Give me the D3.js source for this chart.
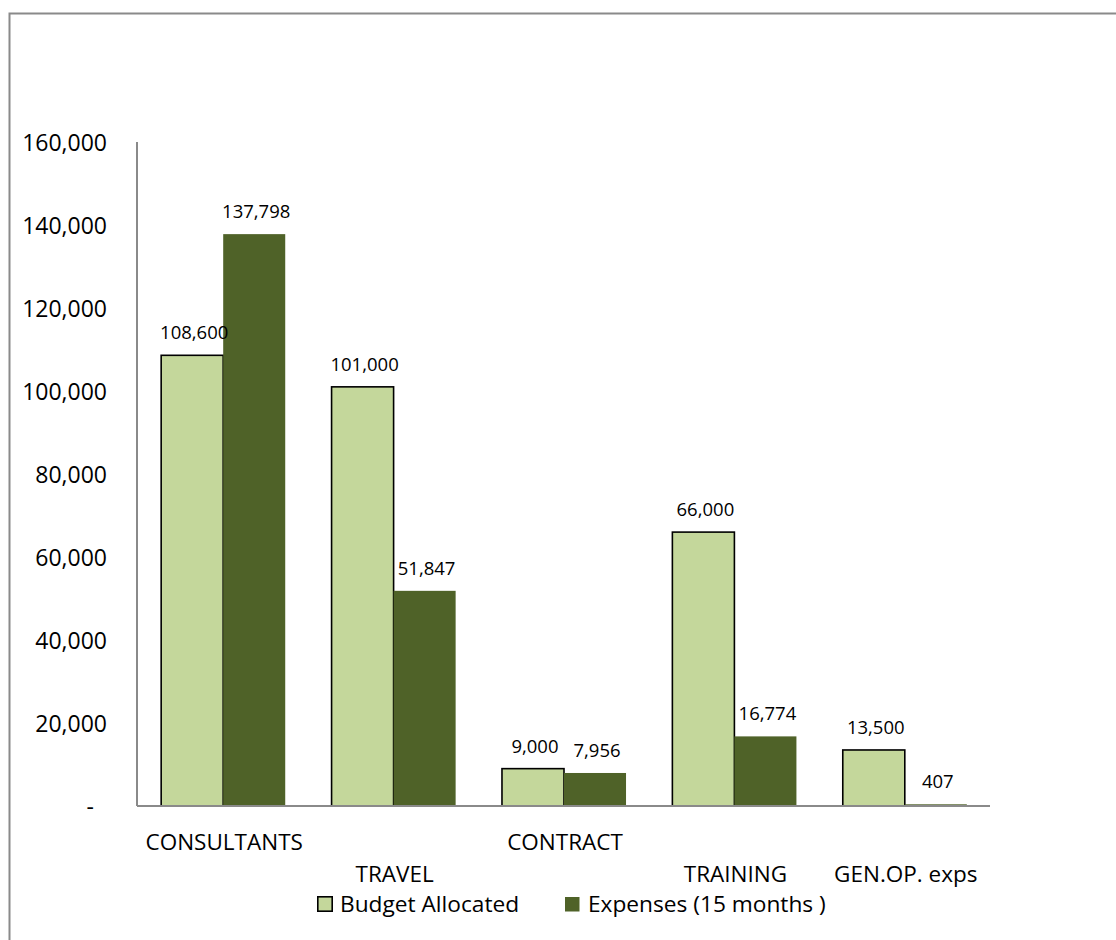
<!DOCTYPE html>
<html>
<head>
<meta charset="utf-8">
<script src="https://cdn.jsdelivr.net/npm/d3@7"></script>
<style>
  html, body { margin: 0; padding: 0; background: #fff; }
  svg { display: block; font-family: "Open Sans", "Noto Sans", sans-serif; }
</style>
</head>
<body>
<svg id="chart" width="1116" height="940"></svg>
<script>
// Budget vs. expenses per cost line
const categories = ["CONSULTANTS", "TRAVEL", "CONTRACT", "TRAINING", "GEN.OP. exps"];
const seriesNames = ["Budget Allocated", "Expenses (15 months )"];
const budgetAllocated = [108600, 101000, 9000, 66000, 13500];
const expenses15Months = [137798, 51847, 7956, 16774, 407];
const yTickValues = [0, 20000, 40000, 60000, 80000, 100000, 120000, 140000, 160000];
const yTickLabels = ["-", "20,000", "40,000", "60,000", "80,000", "100,000", "120,000", "140,000", "160,000"];

const seriesValues = [budgetAllocated, expenses15Months];
const fills = ["#c4d79b", "#4f6228"];
const strokes = ["#000", "none"];

const svg = d3.select("#chart");

// outer frame of the chart area
svg.append("rect")
  .attr("x", 9.5).attr("y", 13.5)
  .attr("width", 1200).attr("height", 1000)
  .attr("fill", "none")
  .attr("stroke", "#8a8a8a")
  .attr("stroke-width", 2);

const plot = { left: 137, right: 990, top: 142, bottom: 806 };

const x = d3.scaleBand()
  .domain(categories)
  .range([plot.left + 1, plot.right])
  .paddingInner(0.272)
  .paddingOuter(0.136);

const xs = d3.scaleBand()
  .domain(seriesNames)
  .range([0, x.bandwidth()]);

const y = d3.scaleLinear()
  .domain([0, 160000])
  .range([plot.bottom, plot.top]);

const fmt = d3.format(",");

// y axis labels
const yAxis = d3.axisLeft(y)
  .tickValues(yTickValues)
  .tickFormat((d, i) => yTickLabels[i])
  .tickSize(0)
  .tickPadding(30);

const gy = svg.append("g")
  .attr("transform", `translate(${plot.left},0)`)
  .call(yAxis);
gy.select(".domain").remove();
gy.selectAll("text")
  .attr("font-size", 23)
  .attr("font-family", "'Open Sans', sans-serif")
  .attr("fill", "#000")
  .attr("dy", "0.35em")
  .attr("dx", (d) => d === 0 ? -13 : 0);

// bars
const groups = svg.append("g").selectAll("g")
  .data(categories)
  .join("g")
  .attr("transform", (d) => `translate(${x(d)},0)`);

seriesNames.forEach((name, si) => {
  groups.append("rect")
    .attr("x", xs(name))
    .attr("y", (d, i) => y(seriesValues[si][i]))
    .attr("width", xs.bandwidth())
    .attr("height", (d, i) => y(0) - y(seriesValues[si][i]))
    .attr("fill", fills[si])
    .attr("stroke", strokes[si])
    .attr("stroke-width", 1.6);
});

// value labels, drawn above all bars
seriesNames.forEach((name, si) => {
  groups.append("text")
    .attr("x", xs(name) + xs.bandwidth() / 2 + 2)
    .attr("y", (d, i) => y(seriesValues[si][i]) - 16)
    .attr("text-anchor", "middle")
    .attr("font-size", 18.5)
    .attr("fill", "#000")
    .text((d, i) => fmt(seriesValues[si][i]));
});

// axis lines
svg.append("line")
  .attr("x1", plot.left).attr("x2", plot.left)
  .attr("y1", plot.top).attr("y2", plot.bottom)
  .attr("stroke", "#8a8a8a").attr("stroke-width", 2);
svg.append("line")
  .attr("x1", plot.left).attr("x2", plot.right)
  .attr("y1", plot.bottom).attr("y2", plot.bottom)
  .attr("stroke", "#8a8a8a").attr("stroke-width", 2);

// category labels, staggered on two rows
const upperRow = new Set([0, 2]);
svg.append("g").selectAll("text")
  .data(categories)
  .join("text")
  .attr("x", (d) => x(d) + x.bandwidth() / 2 + 1)
  .attr("y", (d, i) => upperRow.has(i) ? 850 : 882)
  .attr("text-anchor", "middle")
  .attr("font-size", 22.5)
  .attr("fill", "#000")
  .text((d) => d);

// legend
const legendX = [317, 565];
const legend = svg.append("g").selectAll("g")
  .data(seriesNames)
  .join("g")
  .attr("transform", (d, i) => `translate(${legendX[i]},896)`);
legend.append("rect")
  .attr("x", (d, i) => i === 0 ? 0.8 : 0)
  .attr("y", (d, i) => i === 0 ? 0.8 : 1)
  .attr("width", (d, i) => i === 0 ? 14.4 : 14.5)
  .attr("height", (d, i) => i === 0 ? 14.4 : 14.5)
  .attr("fill", (d, i) => fills[i])
  .attr("stroke", (d, i) => strokes[i])
  .attr("stroke-width", 1.6);
legend.append("text")
  .attr("x", 23)
  .attr("y", 16)
  .attr("font-size", 22.7)
  .attr("fill", "#000")
  .text((d) => d);
</script>
</body>
</html>
